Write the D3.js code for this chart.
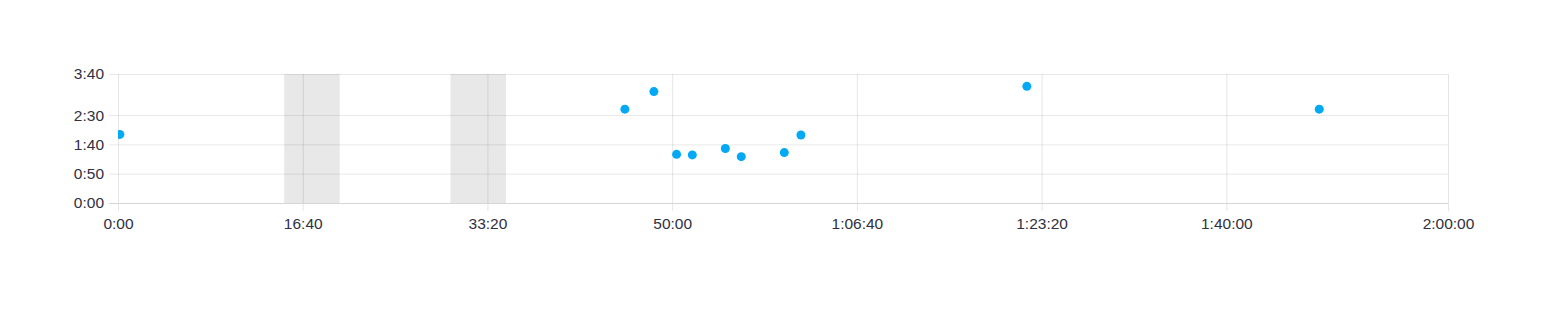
<!DOCTYPE html>
<html>
<head>
<meta charset="utf-8">
<script src="https://cdn.jsdelivr.net/npm/d3@7"></script>
<style>
  body { margin: 0; background: #fff; }
  svg { display: block; font-family: "Liberation Sans", Arial, sans-serif; }
  .tick text { fill: #30303e; font-size: 15.5px; }
</style>
</head>
<body>
<div id="chart"></div>
<script>
// elapsed time (s) and value (s) for each point
const times = [10, 2744, 2901, 3024, 3109, 3288, 3374, 3607, 3697, 4920, 6503];
const values = [117, 160, 190, 83, 82, 93, 79, 86, 116, 199, 160];
// shaded intervals (s)
const bandStarts = [900, 1800];
const bandEnds = [1200, 2100];
const xTicks = [0, 1000, 2000, 3000, 4000, 5000, 6000, 7200];
const yTicks = [0, 50, 100, 150, 220];

const width = 1568, height = 312;
const margin = { top: 74, right: 120, bottom: 109, left: 118 };
const w = width - margin.left - margin.right;
const h = height - margin.top - margin.bottom;

const fmt = s => {
  const hh = Math.floor(s / 3600), mm = Math.floor((s % 3600) / 60), ss = Math.round(s % 60);
  const p = n => String(n).padStart(2, '0');
  return hh > 0 ? `${hh}:${p(mm)}:${p(ss)}` : `${mm}:${p(ss)}`;
};

const svg = d3.select('#chart').append('svg')
  .attr('width', width).attr('height', height);
const g = svg.append('g').attr('transform', `translate(${margin.left},${margin.top})`);

const x = d3.scaleLinear().domain([0, 7200]).range([0, w]);
const y = d3.scaleLinear().domain([0, 220]).range([h, 0]);

svg.append('clipPath').attr('id', 'plot')
  .append('rect').attr('width', w).attr('height', h);

// bands
g.selectAll('.band').data(bandStarts).join('rect')
  .attr('class', 'band')
  .attr('x', (d) => x(d))
  .attr('width', (d, i) => x(bandEnds[i]) - x(d))
  .attr('y', 0).attr('height', h)
  .attr('fill', '#e8e8e8');

// grid + axes
const xAxis = g.append('g')
  .attr('transform', `translate(0,${h})`)
  .call(d3.axisBottom(x).tickValues(xTicks).tickFormat(fmt).tickSizeInner(-h).tickSizeOuter(0).tickPadding(15));
xAxis.select('.domain').remove();
xAxis.selectAll('.tick line').attr('stroke', 'rgba(0,0,0,0.1)').attr('y1', 8);

const yAxis = g.append('g')
  .call(d3.axisLeft(y).tickValues(yTicks).tickFormat(fmt).tickSizeInner(-w - 9).tickSizeOuter(0).tickPadding(5));
yAxis.select('.domain').remove();
yAxis.selectAll('.tick line').attr('stroke', 'rgba(0,0,0,0.09)').attr('x1', -9).attr('x2', w);
yAxis.selectAll('.tick text').attr('x', -14);
yAxis.selectAll('.tick').filter(d => d === 0).select('line').attr('stroke', '#d6d6d6');

// points
g.append('g').attr('clip-path', 'url(#plot)')
  .selectAll('circle').data(times).join('circle')
  .attr('cx', (d) => x(d))
  .attr('cy', (d, i) => y(values[i]))
  .attr('r', 4.5)
  .attr('fill', '#03a9f4');
</script>
</body>
</html>
